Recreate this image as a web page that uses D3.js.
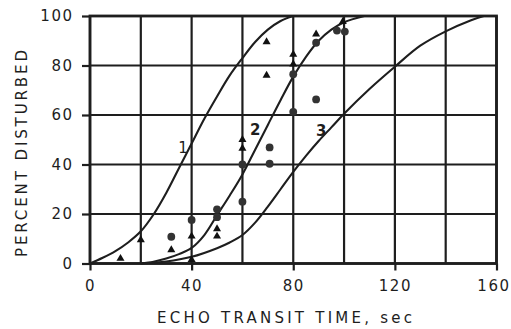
<!DOCTYPE html>
<html lang="en">
<head>
  <meta charset="UTF-8">
  <title>Percent Disturbed vs Echo Transit Time</title>
  <style>
    body {
      margin: 0;
      background: #fff;
      font-family: "DejaVu Sans", Arial, sans-serif;
    }
    #chart svg {
      display: block;
    }
  </style>
  <script src="https://d3js.org/d3.v7.min.js"></script>
</head>
<body>
  <div id="chart"></div>

  <script>
    // curves: [transit time sec, percent disturbed]
    const curve1 = [[0, 0], [5, 2.3], [10, 5], [15, 8.5], [20, 13], [25, 19.8], [30, 28.5], [35, 38.5],
                    [40, 48.5], [45, 58.5], [50, 67.5], [55, 76], [60, 83], [65, 89.5], [70, 94.5],
                    [75, 98], [80, 100]];
    const curve2 = [[20, 0], [25, 0.7], [30, 2], [35, 3.8], [40, 6.3], [45, 11.5], [50, 19.5], [55, 27.5],
                    [60, 36], [65, 46], [70, 56], [75, 66], [80, 75.5], [85, 83.5], [90, 90],
                    [95, 94.5], [100, 97.5], [108, 100]];
    const curve3 = [[20, 0], [30, 0.8], [40, 2.7], [50, 6.2], [55, 8.5], [60, 11.5], [65, 16.5],
                    [70, 23], [75, 30], [80, 37], [85, 43.5], [90, 49.5], [95, 55], [100, 60.5],
                    [110, 70.5], [120, 79.5], [130, 88], [140, 93.8], [150, 98.3], [155, 100]];

    // observations
    const triangles = [[12, 2], [20, 9.5], [32, 5.5], [40, 11], [40, 1.5], [50, 14], [50, 11],
                       [60, 50], [60, 46.5], [69.5, 89.5], [69.5, 76], [80, 84.5], [80, 80.5],
                       [89, 92.7], [99.5, 97.7]];
    const circles = [[32, 10.8], [40, 17.6], [50, 21.9], [50, 18.7], [60, 25], [60, 40],
                     [70.7, 46.9], [70.7, 40.3], [80, 61.3], [80, 76.5], [89, 89.2], [89, 66.3],
                     [97.2, 94.1], [100.3, 93.7]];

    const curveLabels = [{text: "1", x: 36.6, y: 47, bold: false},
                         {text: "2", x: 65, y: 54, bold: true},
                         {text: "3", x: 91, y: 53.5, bold: true}];

    const xGrid = [0, 20, 40, 60, 80, 100, 120, 140, 160];
    const xTicks = [0, 40, 80, 120, 160];
    const yTicks = [0, 20, 40, 60, 80, 100];

    const W = 511, H = 329;
    const ink = "#1e1e1e";

    const svg = d3.select("#chart").append("svg")
      .attr("width", W)
      .attr("height", H);

    const x = d3.scaleLinear().domain([0, 160]).range([90, 496.5]);
    const y = d3.scaleLinear().domain([0, 100]).range([263.5, 16]);

    // grid
    svg.append("g").selectAll("line.v")
      .data(xGrid)
      .enter().append("line")
      .attr("x1", d => x(d)).attr("x2", d => x(d))
      .attr("y1", y(0)).attr("y2", y(100))
      .attr("stroke", ink).attr("stroke-width", 2.2);

    svg.append("g").selectAll("line.h")
      .data(yTicks)
      .enter().append("line")
      .attr("x1", x(0)).attr("x2", x(160))
      .attr("y1", d => y(d)).attr("y2", d => y(d))
      .attr("stroke", ink).attr("stroke-width", 2.2);

    // frame
    svg.append("rect")
      .attr("x", x(0)).attr("y", y(100))
      .attr("width", x(160) - x(0)).attr("height", y(0) - y(100))
      .attr("fill", "none").attr("stroke", ink).attr("stroke-width", 2.8);

    // axes
    const yAxis = svg.append("g")
      .attr("transform", `translate(${x(0)},0)`)
      .call(d3.axisLeft(y).tickValues(yTicks).tickSize(8).tickPadding(10));
    const xAxis = svg.append("g")
      .attr("transform", `translate(0,${y(0)})`)
      .call(d3.axisBottom(x).tickValues(xTicks).tickSize(7).tickPadding(10));

    [xAxis, yAxis].forEach(g => {
      g.select(".domain").remove();
      g.selectAll(".tick line").attr("stroke", ink).attr("stroke-width", 2.2);
      g.selectAll(".tick text")
        .attr("fill", ink)
        .style("font-family", "'DejaVu Sans', sans-serif")
        .style("font-size", "15px")
        .style("letter-spacing", "1.5px");
    });
    yAxis.selectAll(".tick text").attr("dx", "1.5px");
    // last label sits on the window edge; pull it in so it stays whole
    xAxis.selectAll(".tick text").filter(d => d === 160)
      .attr("text-anchor", "end")
      .attr("x", 510 - x(160));

    // curves
    const line = d3.line()
      .x(d => x(d[0]))
      .y(d => y(d[1]))
      .curve(d3.curveCatmullRom.alpha(0.5));

    svg.append("g").selectAll("path")
      .data([curve1, curve2, curve3])
      .enter().append("path")
      .attr("d", line)
      .attr("fill", "none")
      .attr("stroke", ink)
      .attr("stroke-width", 2.1);

    // curve numbers
    svg.append("g").selectAll("text")
      .data(curveLabels)
      .enter().append("text")
      .attr("x", d => x(d.x))
      .attr("y", d => y(d.y))
      .attr("dy", "0.36em")
      .attr("text-anchor", "middle")
      .attr("fill", ink)
      .style("font-size", "15px")
      .style("font-weight", d => d.bold ? "bold" : "normal")
      .text(d => d.text);

    // points
    svg.append("g").selectAll("circle")
      .data(circles)
      .enter().append("circle")
      .attr("cx", d => x(d[0]))
      .attr("cy", d => y(d[1]))
      .attr("r", 3.9)
      .attr("fill", "#333");

    svg.append("g").selectAll("path")
      .data(triangles)
      .enter().append("path")
      .attr("d", d3.symbol(d3.symbolTriangle).size(28))
      .attr("transform", d => `translate(${x(d[0])},${y(d[1])})`)
      .attr("fill", "#111");

    // axis titles
    svg.append("text")
      .attr("x", 157).attr("y", 323)
      .attr("textLength", 255)
      .attr("lengthAdjust", "spacing")
      .attr("fill", ink)
      .style("font-size", "15px")
      .text("ECHO TRANSIT TIME,  sec");

    svg.append("text")
      .attr("transform", "translate(26.5,257) rotate(-90)")
      .attr("textLength", 207)
      .attr("lengthAdjust", "spacing")
      .attr("fill", ink)
      .style("font-size", "15px")
      .text("PERCENT DISTURBED");
  </script>
</body>
</html>
